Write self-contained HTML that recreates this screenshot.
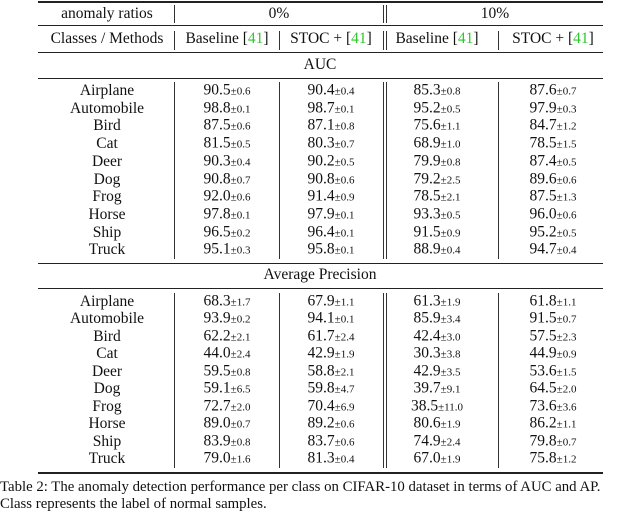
<!DOCTYPE html>
<html><head><meta charset="utf-8">
<style>
body{margin:0;width:640px;height:512px;background:#fff;position:relative;overflow:hidden;font-family:"Liberation Serif",serif;color:#111;}
.t{position:absolute;white-space:nowrap;font-size:15.5px;line-height:16px;transform:translate(-50%,-50%);}
.h{position:absolute;height:1.2px;background:#222;left:38px;width:565px;}
.v{position:absolute;width:1px;background:#333;}
.s{font-size:11px;}
.g{color:#2ec82e;}
.cap{position:absolute;left:0;font-size:14.8px;white-space:nowrap;}
</style></head><body>
<div class="h" style="top:1px;height:1.5px"></div>
<div class="h" style="top:25px"></div>
<div class="h" style="top:52px"></div>
<div class="h" style="top:78px"></div>
<div class="h" style="top:263px"></div>
<div class="h" style="top:288px"></div>
<div class="h" style="top:472px;height:1.5px"></div>
<div id="root"></div>
<div class="cap" style="top:479px">Table 2: The anomaly detection performance per class on CIFAR-10 dataset in terms of AUC and AP.</div>
<div class="cap" style="top:496px">Class represents the label of normal samples.</div>
<script>
const classes=["Airplane","Automobile","Bird","Cat","Deer","Dog","Frog","Horse","Ship","Truck"];
const aucB0=["90.5","98.8","87.5","81.5","90.3","90.8","92.0","97.8","96.5","95.1"];
const aucB0s=["0.6","0.1","0.6","0.5","0.4","0.7","0.6","0.1","0.2","0.3"];
const aucS0=["90.4","98.7","87.1","80.3","90.2","90.8","91.4","97.9","96.4","95.8"];
const aucS0s=["0.4","0.1","0.8","0.7","0.5","0.6","0.9","0.1","0.1","0.1"];
const aucB10=["85.3","95.2","75.6","68.9","79.9","79.2","78.5","93.3","91.5","88.9"];
const aucB10s=["0.8","0.5","1.1","1.0","0.8","2.5","2.1","0.5","0.9","0.4"];
const aucS10=["87.6","97.9","84.7","78.5","87.4","89.6","87.5","96.0","95.2","94.7"];
const aucS10s=["0.7","0.3","1.2","1.5","0.5","0.6","1.3","0.6","0.5","0.4"];
const apB0=["68.3","93.9","62.2","44.0","59.5","59.1","72.7","89.0","83.9","79.0"];
const apB0s=["1.7","0.2","2.1","2.4","0.8","6.5","2.0","0.7","0.8","1.6"];
const apS0=["67.9","94.1","61.7","42.9","58.8","59.8","70.4","89.2","83.7","81.3"];
const apS0s=["1.1","0.1","2.4","1.9","2.1","4.7","6.9","0.6","0.6","0.4"];
const apB10=["61.3","85.9","42.4","30.3","42.9","39.7","38.5","80.6","74.9","67.0"];
const apB10s=["1.9","3.4","3.0","3.8","3.5","9.1","11.0","1.9","2.4","1.9"];
const apS10=["61.8","91.5","57.5","44.9","53.6","64.5","73.6","86.2","79.8","75.8"];
const apS10s=["1.1","0.7","2.3","0.9","1.5","2.0","3.6","1.1","0.7","1.2"];
const root=document.getElementById('root');
const cx=[107,227,331,437,553];
function txt(x,y,html,name){const d=document.createElement('div');d.className='t';d.style.left=x+'px';d.style.top=y+'px';d.innerHTML=html;


root.appendChild(d);}
function vl(x,y1,y2,name){const d=document.createElement('div');d.className='v';d.style.left=x+'px';d.style.top=y1+'px';d.style.height=(y2-y1)+'px';


root.appendChild(d);}
txt(107,14,'anomaly ratios','header-anomaly-ratios');
txt(279,14,'0%','header-0-percent');
txt(495,14,'10%','header-10-percent');
txt(107,39,'Classes / Methods','header-classes-methods');
txt(cx[1],39,'Baseline [<span class="g">41</span>]','header-baseline-0');
txt(cx[2],39,'STOC + [<span class="g">41</span>]','header-stoc-0');
txt(cx[3],39,'Baseline [<span class="g">41</span>]','header-baseline-10');
txt(cx[4],39,'STOC + [<span class="g">41</span>]','header-stoc-10');
txt(320,65,'AUC','section-auc');
txt(320,275,'Average Precision','section-ap');
[[5,23],[31,50]].forEach(([a,b],i)=>{vl(174,a,b,'vline-a'+i);vl(383,a,b,'vline-c'+i);vl(386,a,b,'vline-d'+i);});
vl(279,31,50,'vline-b-header');vl(498,31,50,'vline-e-header');
[[82,259],[293,468]].forEach(([a,b],i)=>{vl(174,a,b,'vline-a-s'+i);vl(279,a,b,'vline-b-s'+i);vl(383,a,b,'vline-c-s'+i);vl(386,a,b,'vline-d-s'+i);vl(498,a,b,'vline-e-s'+i);});
function section(y0,pitch,cols,pre){
 classes.forEach((c,i)=>{const y=y0+i*pitch;
  txt(cx[0],y,c,pre+'-class-'+c.toLowerCase());
  cols.forEach(([v,s],j)=>txt(cx[j+1],y,v[i]+'<span class="s">±'+s[i]+'</span>',pre+'-cell-'+c.toLowerCase()+'-'+j));});
}
section(91,17.7,[[aucB0,aucB0s],[aucS0,aucS0s],[aucB10,aucB10s],[aucS10,aucS10s]],'auc');
section(302,17.45,[[apB0,apB0s],[apS0,apS0s],[apB10,apB10s],[apS10,apS10s]],'ap');
</script>
</body></html>
